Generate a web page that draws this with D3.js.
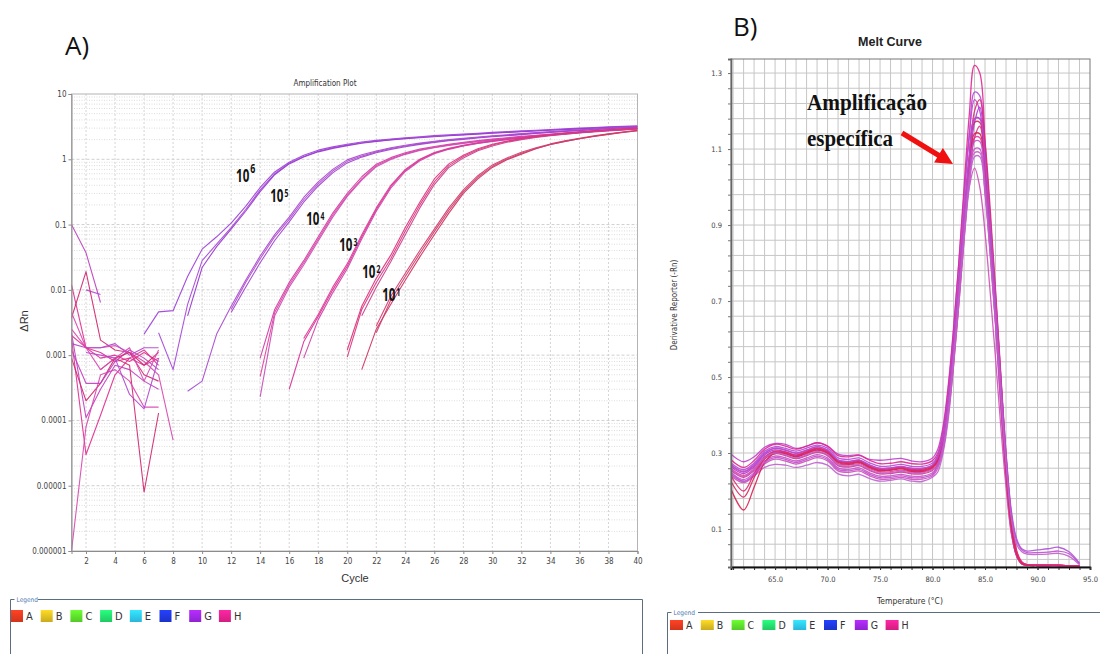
<!DOCTYPE html>
<html><head><meta charset="utf-8">
<script src="https://cdn.jsdelivr.net/npm/d3@7"></script>
<style>body{margin:0;background:#fff}svg{display:block}</style>
</head><body>
<svg id="chart" width="1100" height="654"></svg>
<script>
// ---------------- DATA: Amplification plot (ΔRn vs cycle) ----------------
const cycleTicks = [2,4,6,8,10,12,14,16,18,20,22,24,26,28,30,32,34,36,38,40];
const dRnTicks = [10,1,0.1,0.01,0.001,0.0001,0.00001,0.000001];
const dRnTickLabels = ['10','1','0.1','0.01','0.001','0.0001','0.00001','0.000001'];

// baseline noise, cycles 1-8
const ampNoise = [
  {start:1, v:[0.1,0.037,0.0064]},
  {start:1, v:[0.012,0.0013,0.0011,0.0008,0.0009,0.0007,0.0009]},
  {start:2, v:[0.01,0.0085]},
  {start:1, v:[0.0037,0.019,0.0017,0.0012,0.0011,0.0005,0.0004]},
  {start:1, v:[0.0025,0.0013,0.0013,0.0014,0.0011,0.0008,0.0005,0.00005]},
  {start:1, v:[0.0022,0.00011,0.0003,0.0007,0.0006,0.0004,0.0003]},
  {start:1, v:[0.0018,0.00003,0.00012,0.0005,0.0009,0.0012,0.0007]},
  {start:1, v:[0.0015,0.0013,0.0013,0.0015,0.001,0.0013,0.0013]},
  {start:1, v:[0.0009,0.0002,0.00037,0.0009,0.0007,0.000008,0.00013]},
  {start:1, v:[0.000001,0.00008,0.0005,0.0006,0.0004,0.00016,0.00016]},
  {start:1, v:[0.0012,0.00037,0.00037,0.0008,0.0012,0.0009,0.0006]},
  {start:1, v:[0.002,0.0013,0.0009,0.001,0.0008,0.0011,0.0008]},
  {start:2, v:[0.0011,0.001,0.0009,0.00025,0.00015,0.0009]},
  {start:3, v:[0.0006,0.0009,0.0011,0.0007,0.0011]},
  {start:1, v:[0.0045,0.0013,0.0006,0.0009,0.0013,0.0004,0.0012]}
];
const amp1e6 = [
  {start:6, v:[0.0021,0.0046,0.0048,0.016,0.042,0.065,0.105,0.19,0.37,0.64,0.9,1.15,1.38,1.55,1.7,1.84,1.95,2.05,2.14,2.22,2.3,2.37,2.44,2.51,2.58,2.65,2.72,2.79,2.86,2.93,3.0,3.07,3.14,3.2,3.26]},
  {start:7, v:[0.0022,0.0006,0.006,0.028,0.05,0.09,0.17,0.34,0.6,0.87,1.1,1.33,1.5,1.65,1.79,1.9,2.0,2.09,2.17,2.25,2.32,2.39,2.46,2.53,2.6,2.67,2.74,2.81,2.88,2.95,3.02,3.09,3.15,3.21]},
  {start:9, v:[0.004,0.022,0.046,0.085,0.16,0.32,0.58,0.85,1.08,1.3,1.47,1.62,1.76,1.87,1.97,2.06,2.14,2.22,2.29,2.36,2.43,2.5,2.57,2.64,2.71,2.78,2.85,2.92,2.99,3.06,3.12,3.18]}
];
const amp1e5 = [
  {start:9, v:[0.00028,0.0004,0.0021,0.0056,0.014,0.033,0.07,0.13,0.26,0.45,0.7,0.98,1.17,1.34,1.5,1.64,1.77,1.89,2.0,2.1,2.2,2.29,2.38,2.47,2.56,2.65,2.74,2.83,2.92,3.01,3.1,3.18]},
  {start:12, v:[0.005,0.013,0.03,0.065,0.12,0.24,0.42,0.66,0.93,1.12,1.3,1.46,1.6,1.73,1.85,1.96,2.06,2.16,2.25,2.34,2.43,2.52,2.61,2.7,2.79,2.88,2.97,3.06,3.14]},
  {start:12, v:[0.0045,0.011,0.026,0.057,0.11,0.22,0.39,0.62,0.88,1.08,1.26,1.42,1.56,1.69,1.81,1.92,2.02,2.12,2.21,2.3,2.39,2.48,2.57,2.66,2.75,2.84,2.93,3.02,3.1]}
];
const amp1e4 = [
  {start:14, v:[0.0009,0.005,0.013,0.028,0.065,0.15,0.3,0.54,0.84,1.06,1.26,1.43,1.57,1.7,1.82,1.93,2.04,2.14,2.24,2.34,2.44,2.54,2.64,2.74,2.84,2.94,3.04]},
  {start:14, v:[0.00047,0.0045,0.012,0.026,0.06,0.14,0.28,0.5,0.8,1.02,1.22,1.39,1.53,1.66,1.78,1.89,2.0,2.1,2.2,2.3,2.4,2.5,2.6,2.7,2.8,2.9,2.99]},
  {start:14, v:[0.00023,0.004,0.011,0.024,0.056,0.13,0.27,0.48,0.77,0.99,1.19,1.36,1.5,1.63,1.75,1.86,1.97,2.07,2.17,2.27,2.37,2.47,2.57,2.67,2.77,2.86,2.95]}
];
const amp1e3 = [
  {start:16, v:[0.0003,0.0016,0.0039,0.01,0.023,0.065,0.17,0.38,0.68,0.98,1.25,1.45,1.62,1.77,1.9,2.02,2.13,2.24,2.35,2.46,2.56,2.66,2.76,2.85,2.94]},
  {start:17, v:[0.0018,0.0042,0.011,0.025,0.07,0.18,0.4,0.7,1.0,1.27,1.47,1.64,1.79,1.92,2.04,2.15,2.26,2.37,2.48,2.58,2.68,2.78,2.87,2.96]},
  {start:17, v:[0.0009,0.0035,0.009,0.021,0.06,0.16,0.36,0.65,0.95,1.22,1.42,1.6,1.75,1.88,2.0,2.11,2.22,2.33,2.43,2.53,2.63,2.72,2.81,2.9]}
];
const amp1e2 = [
  {start:20, v:[0.00093,0.005,0.013,0.03,0.08,0.2,0.45,0.8,1.1,1.4,1.65,1.87,2.05,2.2,2.34,2.47,2.59,2.7,2.8,2.89,2.97]},
  {start:20, v:[0.0012,0.0056,0.015,0.034,0.09,0.22,0.5,0.85,1.15,1.45,1.7,1.9,2.08,2.23,2.37,2.5,2.62,2.73,2.83,2.92,3.0]},
  {start:21, v:[0.004,0.011,0.027,0.07,0.18,0.41,0.75,1.05,1.35,1.6,1.82,2.0,2.16,2.3,2.43,2.55,2.66,2.76,2.85,2.93]}
];
const amp1e1 = [
  {start:21, v:[0.0006,0.0025,0.006,0.014,0.032,0.07,0.15,0.3,0.5,0.75,0.98,1.2,1.45,1.68,1.88,2.06,2.25,2.43,2.6,2.75]},
  {start:22, v:[0.0028,0.008,0.018,0.04,0.085,0.18,0.34,0.56,0.82,1.05,1.28,1.5,1.72,1.92,2.1,2.28,2.45,2.62,2.78]},
  {start:22, v:[0.0022,0.007,0.016,0.036,0.078,0.165,0.32,0.53,0.78,1.01,1.24,1.46,1.68,1.88,2.06,2.24,2.41,2.58,2.74]}
];
// dilution labels: exponent and anchor (cycle, ΔRn)
const dilutionLabels = [
  {exp:'6', c:12.34, v:0.449},
  {exp:'5', c:14.69, v:0.222},
  {exp:'4', c:17.17, v:0.0986},
  {exp:'3', c:19.45, v:0.0394},
  {exp:'2', c:21.03, v:0.0152},
  {exp:'1', c:22.41, v:0.00676}
];

// ---------------- DATA: Melt curve ----------------
const tempTicks = [65,70,75,80,85,90,95];
const tempTickLabels = ['65.0','70.0','75.0','80.0','85.0','90.0','95.0'];
const derivTicks = [0.1,0.3,0.5,0.7,0.9,1.1,1.3];
const derivTickLabels = ['0.1','0.3','0.5','0.7','0.9','1.1','1.3'];
const meltTemps = [60.8,62,63,64,65,66,67,68,69,70,71,72,73,74,75,76,77,78,79,80,80.5,81,81.5,82,82.5,83,83.5,84,84.5,85,85.5,86,86.5,87,87.5,88,88.5,89,90,91,92,93,94];
const melt01 = [.297,.277,.29,.315,.325,.323,.312,.318,.327,.318,.297,.293,.295,.283,.281,.283,.286,.279,.277,.287,.31,.37,.48,.63,.8,.98,1.14,1.23,1.2,1.04,.85,.64,.42,.23,.09,.03,.008,.005,.004,.004,.004,.003,.002];
const melt02 = [.282,.262,.28,.31,.323,.318,.31,.318,.327,.318,.293,.29,.294,.281,.272,.273,.277,.272,.271,.28,.3,.36,.47,.62,.8,1.0,1.19,1.32,1.3,1.12,.9,.68,.45,.25,.1,.03,.008,.005,.004,.004,.004,.003,.002];
const melt03 = [.274,.256,.274,.305,.317,.312,.305,.313,.321,.313,.287,.283,.287,.274,.265,.266,.27,.265,.265,.274,.295,.35,.45,.6,.77,.96,1.13,1.25,1.24,1.1,.9,.69,.47,.27,.115,.037,.01,.006,.005,.004,.004,.003,.002];
const melt04 = [.268,.25,.268,.299,.312,.307,.299,.307,.316,.307,.281,.277,.281,.268,.259,.26,.264,.259,.259,.268,.29,.34,.44,.58,.74,.92,1.08,1.18,1.18,1.06,.88,.68,.46,.26,.11,.035,.01,.005,.004,.004,.004,.003,.002];
const melt05 = [.264,.246,.264,.295,.308,.303,.295,.303,.312,.303,.277,.273,.277,.264,.255,.256,.26,.255,.255,.264,.28,.32,.41,.54,.7,.88,1.05,1.17,1.21,1.1,.92,.72,.5,.29,.13,.04,.012,.006,.005,.005,.004,.003,.002];
const melt06 = [.259,.241,.259,.29,.303,.298,.29,.298,.307,.298,.272,.268,.272,.259,.25,.251,.255,.25,.25,.259,.275,.32,.42,.56,.72,.89,1.04,1.13,1.13,1.02,.85,.66,.45,.25,.1,.032,.01,.005,.004,.004,.004,.003,.002];
const melt07 = [.254,.236,.254,.285,.298,.293,.285,.293,.302,.293,.267,.263,.267,.254,.245,.246,.25,.245,.245,.254,.27,.31,.4,.53,.69,.86,1.02,1.13,1.16,1.07,.9,.71,.5,.29,.13,.04,.012,.006,.005,.004,.004,.003,.002];
const melt08 = [.248,.23,.248,.279,.292,.287,.279,.287,.296,.287,.261,.257,.261,.248,.239,.24,.244,.239,.239,.248,.268,.315,.41,.55,.71,.88,1.02,1.1,1.1,.99,.82,.64,.43,.24,.1,.03,.008,.005,.004,.004,.003,.003,.002];
const melt09 = [.24,.222,.24,.271,.284,.279,.271,.279,.288,.279,.253,.249,.253,.24,.231,.232,.236,.231,.231,.24,.26,.31,.41,.55,.71,.87,1.0,1.05,1.0,.88,.72,.55,.37,.21,.09,.03,.008,.005,.004,.004,.003,.003,.002];
const melt10 = [.25,.225,.24,.262,.27,.268,.262,.268,.275,.268,.245,.24,.244,.233,.226,.228,.232,.226,.225,.236,.25,.3,.39,.53,.69,.86,1.0,1.08,1.08,.98,.82,.64,.44,.25,.11,.035,.01,.005,.004,.004,.004,.003,.002];
const melt11 = [.205,.15,.21,.275,.3,.298,.29,.3,.308,.3,.275,.27,.275,.262,.253,.255,.258,.252,.252,.262,.28,.33,.43,.57,.73,.9,1.05,1.14,1.14,1.03,.86,.67,.46,.26,.11,.035,.01,.005,.004,.004,.004,.003,.002];
const melt12 = [.225,.184,.235,.285,.302,.3,.292,.302,.31,.302,.278,.272,.277,.263,.254,.256,.26,.254,.254,.263,.285,.335,.435,.575,.735,.915,1.075,1.17,1.17,1.05,.87,.67,.45,.25,.105,.033,.01,.005,.004,.004,.004,.003,.002];
const melt13 = [.24,.2,.245,.288,.305,.302,.294,.304,.313,.305,.28,.275,.28,.266,.257,.259,.263,.257,.257,.266,.29,.335,.43,.565,.725,.905,1.075,1.2,1.23,1.12,.94,.73,.51,.3,.14,.045,.014,.006,.005,.004,.004,.003,.002];
const melt14 = [.244,.226,.244,.275,.288,.283,.275,.283,.292,.283,.257,.253,.257,.244,.235,.236,.24,.235,.235,.244,.27,.32,.42,.56,.72,.89,1.04,1.12,1.12,1.02,.86,.67,.47,.28,.14,.07,.045,.038,.038,.039,.042,.035,.008];
const melt15 = [.27,.252,.27,.3,.313,.308,.3,.308,.317,.308,.282,.278,.282,.269,.26,.261,.265,.26,.26,.269,.29,.34,.44,.58,.74,.92,1.08,1.18,1.18,1.07,.9,.7,.49,.3,.15,.075,.048,.042,.045,.048,.052,.04,.01];
const melt16 = [.256,.238,.256,.287,.3,.295,.287,.295,.304,.295,.269,.265,.269,.256,.247,.248,.252,.247,.247,.256,.265,.31,.41,.55,.71,.88,1.02,1.09,1.09,.99,.83,.65,.45,.27,.13,.06,.04,.034,.033,.034,.036,.028,.006];
const meltCurves = [melt01,melt02,melt03,melt04,melt05,melt06,melt07,melt08,melt09,melt10,melt11,melt12,melt13,melt14,melt15,melt16];
// annotation anchors in data space (temperature, derivative)
const annotation = {lines:['Amplificação','específica'], t:68.04, v:[1.2026,1.108], arrowFrom:[77.09,1.142], arrowTo:[81.95,1.0605]};

const legendKeys = ['A','B','C','D','E','F','G','H'];

// ---------------- STYLES ----------------
const legendColors = ['#e0381e','#d8b820','#5ad82a','#22d86a','#2cc2ea','#1e36d8','#9a26e2','#e2208a'];
const groupColors = {
  noise:['#c040c0','#e03090','#b048d0','#d02870','#d848b0'],
  g6:['#9b40d8','#a64ad8','#9838cc'],
  g5:['#a848d0','#b04cc8','#a040d0'],
  g4:['#d03ca8','#e0409a','#c84cb8'],
  g3:['#d8309a','#e03890','#cc40a8'],
  g2:['#d83880','#e0307a','#c8408c'],
  g1:['#d03060','#d8386c','#c8406c']
};
const meltColors = ['#c040d0','#e02890','#b848d8','#e8308c','#a838e0','#e0409a','#d83088','#c850c8','#d050b8','#c060d0','#d82050','#d82860','#e02a70','#c050d0','#b050d8','#c060c8'];
const FC = "'DejaVu Sans Condensed','Liberation Sans',Arial,sans-serif";
const FS = "'Liberation Sans',Arial,sans-serif";

const svg = d3.select('#chart');
const defs = svg.append('defs');

// ================= PANEL A =================
const xA = d3.scaleLinear().domain([1,40]).range([71.5,637.5]);
const yA = d3.scaleLog().domain([1e-6,10]).range([551,94]);
const gA = svg.append('g');

const gridVals = [];
for (let e=-6; e<=0; e++) for (let m=1; m<=9; m++) gridVals.push({v:m*Math.pow(10,e), major:m===1});
gA.append('g').selectAll('line').data(gridVals.filter(d=>d.v>1.01e-6)).join('line')
  .attr('x1',xA(1)).attr('x2',xA(40)).attr('y1',d=>yA(d.v)).attr('y2',d=>yA(d.v))
  .attr('stroke',d=>d.major?'#cfcfcf':'#dcdcdc').attr('stroke-dasharray',d=>d.major?'3,2':'1,1.5').attr('stroke-width',1);
gA.append('g').selectAll('line').data(cycleTicks.filter(c=>c<40)).join('line')
  .attr('x1',d=>xA(d)).attr('x2',d=>xA(d)).attr('y1',yA(10)).attr('y2',yA(1e-6))
  .attr('stroke','#d4d4d4').attr('stroke-dasharray','2,2');
gA.append('rect').attr('x',xA(1)).attr('y',yA(10)).attr('width',xA(40)-xA(1)).attr('height',yA(1e-6)-yA(10))
  .attr('fill','none').attr('stroke','#b4b4b4');

defs.append('clipPath').attr('id','clipA').append('rect')
  .attr('x',xA(1)).attr('y',yA(10)).attr('width',xA(40)-xA(1)).attr('height',yA(1e-6)-yA(10)+1);

const lineA = d3.line().x(d=>xA(d[0])).y(d=>yA(d[1]));
const toPts = r => r.v.map((v,i)=>[r.start+i, v]);
const curvesA = [];
ampNoise.forEach((r,i)=>curvesA.push({pts:toPts(r), color:groupColors.noise[i%5]}));
[[amp1e6,'g6'],[amp1e5,'g5'],[amp1e4,'g4'],[amp1e3,'g3'],[amp1e2,'g2'],[amp1e1,'g1']].forEach(([reps,k])=>{
  reps.forEach((r,i)=>curvesA.push({pts:toPts(r), color:groupColors[k][i]}));
});
gA.append('g').attr('clip-path','url(#clipA)').selectAll('path').data(curvesA).join('path')
  .attr('d',d=>lineA(d.pts)).attr('fill','none').attr('stroke',d=>d.color).attr('stroke-width',1.1)
  .attr('stroke-linejoin','round').attr('opacity',0.92);

const axAy = gA.append('g').attr('transform',`translate(${xA(1)},0)`)
  .call(d3.axisLeft(yA).tickValues(dRnTicks).tickFormat((d,i)=>dRnTickLabels[i]).tickSize(3).tickPadding(2));
const axAx = gA.append('g').attr('transform',`translate(0,${yA(1e-6)})`)
  .call(d3.axisBottom(xA).tickValues(cycleTicks).tickSize(3).tickPadding(4));
[axAy,axAx].forEach(a=>{
  a.select('.domain').attr('stroke','#8c8c8c');
  a.selectAll('.tick line').attr('stroke','#8c8c8c');
  a.selectAll('text').attr('fill','#444').style('font-family',FC).style('font-size','8px');
});

gA.append('text').attr('x',325).attr('y',86).attr('text-anchor','middle')
  .style('font-family',FC).style('font-size','8px').attr('fill','#333').text('Amplification Plot');
gA.append('text').attr('x',355).attr('y',582).attr('text-anchor','middle')
  .style('font-family',FS).style('font-size','11px').attr('fill','#333').text('Cycle');
gA.append('text').attr('transform','translate(28,321) rotate(-90)').attr('text-anchor','middle')
  .style('font-family',FS).style('font-size','11px').attr('fill','#333').text('ΔRn');
svg.append('text').attr('x',65).attr('y',55).style('font-family',"'Open Sans',Lato,sans-serif")
  .style('font-size','26px').attr('fill','#111').text('A)');

// dilution labels (10^n) — one text element each, horizontally condensed
const gL = gA.append('g');
dilutionLabels.forEach((d,i)=>{
  const big = i===0;
  const t = gL.append('text').attr('transform',`translate(${xA(d.c)},${yA(d.v)}) scale(0.68,1)`)
    .style('font-family',"'Open Sans',Roboto,sans-serif").style('font-weight','bold').attr('fill','#111');
  t.append('tspan').style('font-size','17px').text('10');
  t.append('tspan').attr('dx',1.5).attr('dy',big?-9:-5).style('font-size',big?'13px':'10px').text(d.exp);
});

// ================= PANEL B =================
const xB = d3.scaleLinear().domain([60.8,95]).range([731,1090]);
const yB = d3.scaleLinear().domain([0,1.337]).range([567,59]);
const gB = svg.append('g');
const degGrid = d3.range(61,95,1);
const derivGrid = d3.range(0.02,1.34,0.04);
gB.append('g').selectAll('line').data(degGrid).join('line')
  .attr('x1',d=>xB(d)).attr('x2',d=>xB(d)).attr('y1',yB(1.337)).attr('y2',yB(0))
  .attr('stroke','#c6c6c6');
gB.append('g').selectAll('line').data(derivGrid).join('line')
  .attr('x1',xB(60.8)).attr('x2',xB(95)).attr('y1',d=>yB(d)).attr('y2',d=>yB(d))
  .attr('stroke','#c6c6c6');
gB.append('rect').attr('x',xB(60.8)).attr('y',yB(1.337)).attr('width',xB(95)-xB(60.8)).attr('height',yB(0)-yB(1.337))
  .attr('fill','none').attr('stroke','#777');

defs.append('clipPath').attr('id','clipB').append('rect')
  .attr('x',xB(60.8)).attr('y',yB(1.337)).attr('width',xB(95)-xB(60.8)).attr('height',yB(0)-yB(1.337));
const lineB = d3.line().x((d,i)=>xB(meltTemps[i])).y(d=>yB(d)).curve(d3.curveCatmullRom.alpha(0.5));
gB.append('g').attr('clip-path','url(#clipB)').selectAll('path').data(meltCurves).join('path')
  .attr('d',d=>lineB(d)).attr('fill','none').attr('stroke',(d,i)=>meltColors[i]).attr('stroke-width',1.3).attr('opacity',0.9);

const axBxMinor = gB.append('g').attr('transform',`translate(0,${yB(0)})`)
  .call(d3.axisBottom(xB).tickValues(d3.range(61,96,1)).tickFormat('').tickSize(3));
const axBx = gB.append('g').attr('transform',`translate(0,${yB(0)})`)
  .call(d3.axisBottom(xB).tickValues(tempTicks).tickFormat((d,i)=>tempTickLabels[i]).tickSize(3).tickPadding(7));
const axByMinor = gB.append('g').attr('transform',`translate(${xB(60.8)},0)`)
  .call(d3.axisLeft(yB).tickValues(derivGrid).tickFormat('').tickSize(3));
const axBy = gB.append('g').attr('transform',`translate(${xB(60.8)},0)`)
  .call(d3.axisLeft(yB).tickValues(derivTicks).tickFormat((d,i)=>derivTickLabels[i]).tickSize(3).tickPadding(6));
[axBxMinor,axBx].forEach(a=>{a.select('.domain').attr('stroke','#111').attr('stroke-width',1.5);a.selectAll('.tick line').attr('stroke','#333');});
[axByMinor,axBy].forEach(a=>{a.select('.domain').attr('stroke','#666').attr('stroke-width',1.3);a.selectAll('.tick line').attr('stroke','#777');});
[axBx,axBy].forEach(a=>a.selectAll('text').attr('fill','#444').style('font-family',FC).style('font-size','7.5px'));

gB.append('text').attr('x',890).attr('y',46).attr('text-anchor','middle')
  .style('font-family',FS).style('font-weight','bold').style('font-size','12.5px').attr('fill','#222').text('Melt Curve');
gB.append('text').attr('x',910).attr('y',604).attr('text-anchor','middle')
  .style('font-family',FC).style('font-size','8.5px').attr('fill','#333').text('Temperature (°C)');
gB.append('text').attr('transform','translate(677,305) rotate(-90)').attr('text-anchor','middle')
  .style('font-family',FC).style('font-size','8px').attr('fill','#333').text('Derivative Reporter (-Rn)');
svg.append('text').attr('x',733).attr('y',36).style('font-family',"'Open Sans',Lato,sans-serif")
  .style('font-size','26px').attr('fill','#111').text('B)');

annotation.lines.forEach((t,i)=>{
  gB.append('text').attr('x',xB(annotation.t)).attr('y',yB(annotation.v[i]))
    .attr('textLength',i===0?120:86).attr('lengthAdjust','spacingAndGlyphs')
    .style('font-family',"'Liberation Serif','Times New Roman',serif").style('font-weight','bold').style('font-size','24px')
    .attr('fill','#111').text(t);
});
{
  const [x0,y0] = [xB(annotation.arrowFrom[0]), yB(annotation.arrowFrom[1])];
  const [x1,y1] = [xB(annotation.arrowTo[0]), yB(annotation.arrowTo[1])];
  const L = Math.hypot(x1-x0,y1-y0), ux=(x1-x0)/L, uy=(y1-y0)/L, px=-uy, py=ux;
  const hl=17, hw=8.5, sw=2.6;
  const bx=x1-hl*ux, by=y1-hl*uy;
  const pts=[[x0+sw*px,y0+sw*py],[bx+sw*px,by+sw*py],[bx+hw*px,by+hw*py],[x1,y1],[bx-hw*px,by-hw*py],[bx-sw*px,by-sw*py],[x0-sw*px,y0-sw*py]];
  gB.append('polygon').attr('points',pts.map(p=>p.join(',')).join(' ')).attr('fill','#f01010');
}

// ================= LEGENDS =================
legendColors.forEach((c,i)=>{
  const g = defs.append('linearGradient').attr('id','lg'+i).attr('x1',0).attr('y1',0).attr('x2',0).attr('y2',1);
  g.append('stop').attr('offset','0%').attr('stop-color',d3.color(c).brighter(0.5));
  g.append('stop').attr('offset','100%').attr('stop-color',d3.color(c).darker(0.2));
});
function legend(cfg){
  const g = svg.append('g');
  g.append('path').attr('d',`M${cfg.left},654 V${cfg.top} H${cfg.left+4} M${cfg.lineStart},${cfg.top} H${cfg.right}` + (cfg.rightBorder?` V654`:''))
    .attr('fill','none').attr('stroke','#5a6e80').attr('stroke-width',1);
  g.append('text').attr('x',cfg.left+6).attr('y',cfg.top+2).style('font-family',FC).style('font-size','6.5px')
    .attr('fill','#4a78b0').text('Legend');
  legendKeys.forEach((k,i)=>{
    const x = cfg.x0 + i*cfg.step;
    g.append('rect').attr('x',x).attr('y',cfg.sy).attr('width',cfg.sw).attr('height',cfg.sh).attr('fill',`url(#lg${i})`);
    g.append('text').attr('x',x+cfg.sw+3).attr('y',cfg.sy+cfg.sh/2).attr('dy','0.36em')
      .style('font-family',FC).style('font-size',cfg.fs).attr('fill','#333').text(k);
  });
}
legend({left:10.5, top:599.5, lineStart:38, right:642.5, rightBorder:true, x0:11, step:29.7, sy:610, sw:12, sh:12, fs:'11px'});
legend({left:667.5, top:612.5, lineStart:698, right:1100, rightBorder:false, x0:670, step:30.8, sy:620, sw:13, sh:10, fs:'10.5px'});
</script>
</body></html>
